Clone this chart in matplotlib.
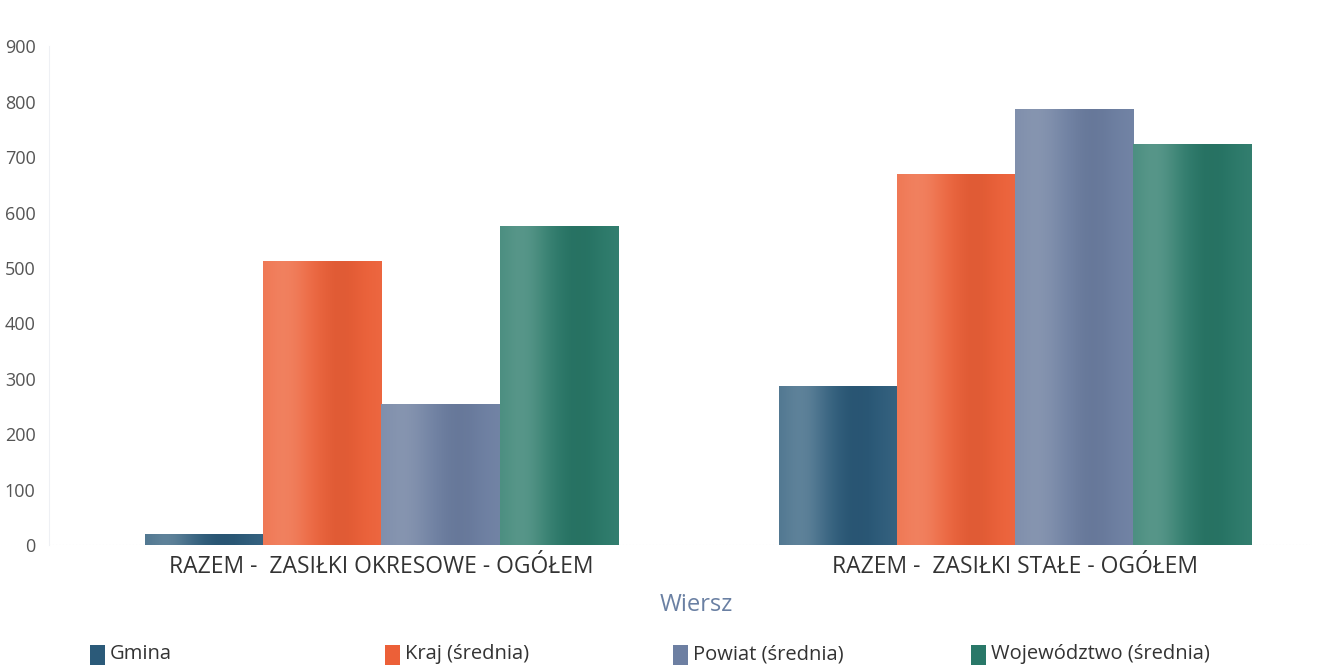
import matplotlib.pyplot as plt
import matplotlib.colors as mcolors
from matplotlib.patches import Rectangle
import numpy as np

plt.rcParams['font.family'] = ['Open Sans', 'DejaVu Sans']

categories = ['RAZEM -  ZASIŁKI OKRESOWE - OGÓŁEM', 'RAZEM -  ZASIŁKI STAŁE - OGÓŁEM']
series = ['Gmina', 'Kraj (średnia)', 'Powiat (średnia)', 'Województwo (średnia)']
gmina = [21, 288]
kraj = [512, 670]
powiat = [254, 786]
wojewodztwo = [575, 724]
values = [gmina, kraj, powiat, wojewodztwo]
colors = ['#2b5a79', '#ec6038', '#6d7fa2', '#297868']
glow = ['#ffffff', '#ffe6d8', '#d4d8da', '#e8f4f0']
yticks = [0, 100, 200, 300, 400, 500, 600, 700, 800, 900]


def shade(base, hi, n=200):
    # cylinder-like shading: soft light band on the left, darkest past the middle
    c = np.array(mcolors.to_rgb(base))
    h = np.array(mcolors.to_rgb(hi))
    t = np.linspace(0, 1, n)
    light = 0.13 + 0.15 * np.exp(-((t - 0.2) / 0.2) ** 2) - 0.13 * np.clip(t / 0.6, 0, 1)
    light = light + 0.05 * np.clip((t - 0.75) / 0.25, 0, 1)
    dark = 0.05 * np.exp(-((t - 0.65) / 0.18) ** 2)
    rgb = c[None, :] * (1 - light[:, None]) + h[None, :] * light[:, None]
    rgb = rgb * (1 - dark[:, None])
    return rgb[None, :, :]


fig = plt.figure(figsize=(13.37, 6.69), dpi=100)
ax = fig.add_axes([0.037, 0.185, 0.943, 0.746])

x = np.arange(len(categories))
w = 0.1865
for i, (vals, col, hi) in enumerate(zip(values, colors, glow)):
    pos = x + (i - 1.5) * w
    bars = ax.bar(pos, vals, width=w, color=col, linewidth=0, zorder=2)
    for b in bars:
        im = ax.imshow(shade(col, hi), extent=(b.get_x(), b.get_x() + b.get_width(), 0, b.get_height()),
                       aspect='auto', zorder=3)
        im.set_clip_path(b)

ax.set_xlim(-0.524, 1.466)
ax.set_ylim(0, 900)
ax.set_yticks(yticks)
ax.set_xticks(x)
ax.set_xticklabels(categories, fontsize=16.5, color='#333333')
ax.tick_params(axis='y', labelsize=13, labelcolor='#555555', length=0, pad=10)
ax.tick_params(axis='x', length=0, pad=7)
for s in ['top', 'right', 'bottom']:
    ax.spines[s].set_visible(False)
ax.spines['left'].set_color('#eef0f4')
ax.axhline(0, color='#cfcfcf', linewidth=0.8, linestyle=(0, (1, 2)), zorder=1)

fig.text(0.521, 0.095, 'Wiersz', ha='center', va='center', fontsize=17, color='#6a80a3')

# legend
leg_x = [0.067, 0.288, 0.503, 0.726]
for lx, name, col in zip(leg_x, series, colors):
    r = Rectangle((lx, 0.006), 0.0115, 0.03, transform=fig.transFigure, facecolor=col,
                  edgecolor='none')
    fig.patches.append(r)
    fig.text(lx + 0.015, 0.022, name, ha='left', va='center', fontsize=14.5, color='#333333')

fig.savefig('out.png', dpi=100, facecolor='white')
